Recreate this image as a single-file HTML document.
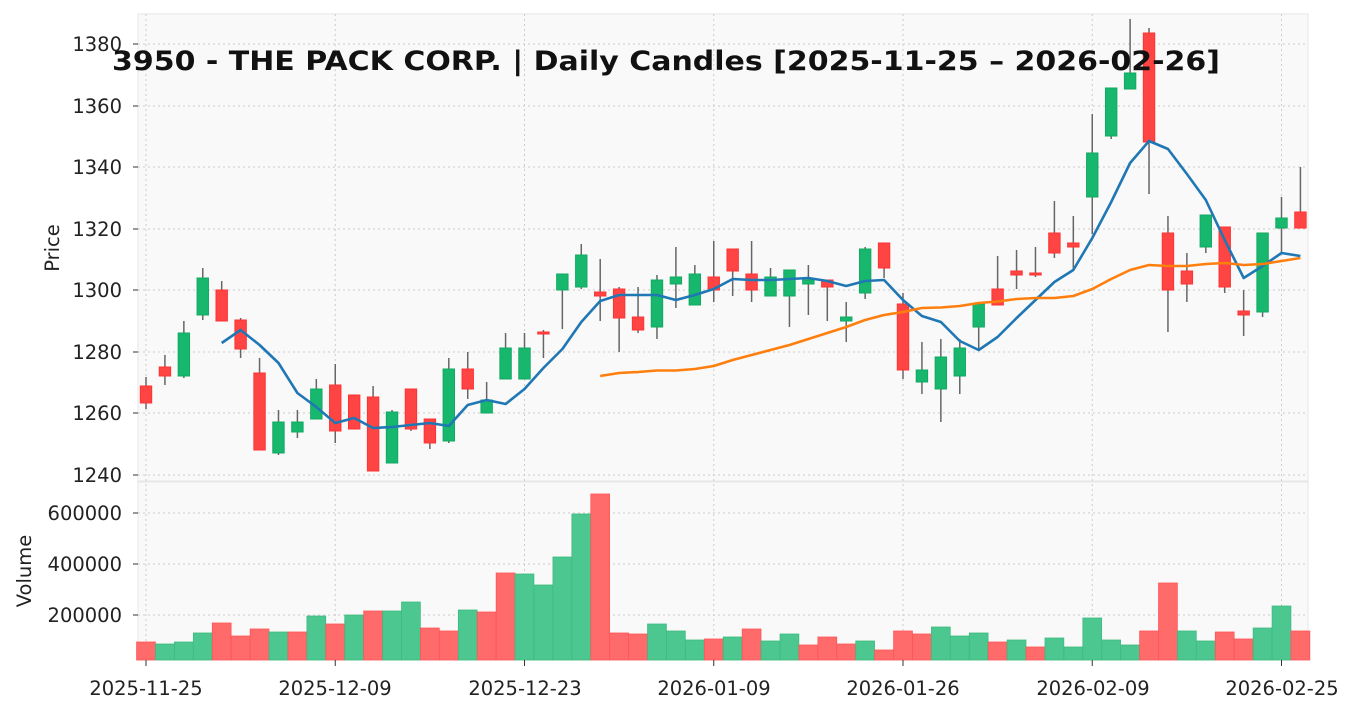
<!DOCTYPE html>
<html><head><meta charset="utf-8"><style>
html,body{margin:0;padding:0;background:#fff;}
svg{display:block;font-family:"DejaVu Sans","Liberation Sans",sans-serif;}
</style></head><body>
<svg id="s" width="1357" height="711" viewBox="0 0 1357 711" xmlns="http://www.w3.org/2000/svg">
<rect x="0" y="0" width="1357" height="711" fill="#fff"/>
<rect x="138" y="14" width="1170" height="467" fill="#f9f9f9" stroke="#e6e6e6"/>
<rect x="138" y="482" width="1170" height="178" fill="#f9f9f9" stroke="#e6e6e6"/>
<g id="grid" stroke="#cccccc" stroke-dasharray="2,3" stroke-width="1"></g>
<g id="vol"></g>
<g id="candles"></g>
<polyline id="ma5" fill="none" stroke="#1f77b4" stroke-width="2.6" stroke-linejoin="round"/>
<polyline id="ma20" fill="none" stroke="#ff7f0e" stroke-width="2.6" stroke-linejoin="round"/>
<g id="ticks" stroke="#333" stroke-width="1"></g>
<g font-size="19.5" fill="#222" text-anchor="end">
<text x="122" y="51">1380</text><text x="122" y="113">1360</text><text x="122" y="174">1340</text>
<text x="122" y="236">1320</text><text x="122" y="297">1300</text><text x="122" y="359">1280</text>
<text x="122" y="420">1260</text><text x="122" y="482">1240</text>
<text x="122" y="520">600000</text><text x="122" y="571">400000</text><text x="122" y="622">200000</text>
</g>
<g font-size="19.5" fill="#222" text-anchor="middle">
<text x="146" y="695">2025-11-25</text><text x="335" y="695">2025-12-09</text>
<text x="525" y="695">2025-12-23</text><text x="714" y="695">2026-01-09</text>
<text x="903" y="695">2026-01-26</text><text x="1093" y="695">2026-02-09</text>
<text x="1282" y="695">2026-02-25</text>
</g>
<text x="59" y="248" font-size="19.5" fill="#222" text-anchor="middle" transform="rotate(-90 59 248)">Price</text>
<text x="31" y="571" font-size="19.5" fill="#222" text-anchor="middle" transform="rotate(-90 31 571)">Volume</text>
<text x="112" y="70" font-size="27" font-weight="bold" fill="#111" textLength="1108" lengthAdjust="spacingAndGlyphs">3950 - THE PACK CORP. | Daily Candles [2025-11-25 – 2026-02-26]</text>
</svg>
<script>
var NS="http://www.w3.org/2000/svg";
function X(i){return 146+i*18.925;}
function el(p,t,a){var e=document.createElementNS(NS,t);for(var k in a)e.setAttribute(k,a[k]);document.getElementById(p).appendChild(e);return e;}
var C=[
['r',386,403,377,409],['r',367,376,355,385],['g',333,376,321,378],['g',278,315,268,320],['r',290,321,281,321],
['r',320,349,318,358],['r',373,450,358,450],['g',422,453,410,455],['g',422,432,410,438],['g',389,419,379,419],
['r',385,431,364,443],['r',395,429,395,429],['r',397,471,386,471],['g',412,463,410,463],['r',389,429,389,431],
['r',419,443,419,449],['g',369,441,358,443],['r',369,389,352,399],['g',400,413,382,413],['g',348,379,333,379],
['g',348,379,333,379],['r',332,334,330,358],['g',274,290,274,329],['g',255,287,244,289],['r',292,296,259,321],
['r',289,318,287,352],['r',317,330,287,333],['g',280,327,275,339],['g',277,284,247,308],['g',274,305,265,305],
['r',277,290,241,302],['r',249,271,249,296],['r',274,290,241,302],['g',277,296,268,296],['g',270,296,270,327],
['g',280,284,265,315],['r',280,287,280,321],['g',317,321,302,342],['g',249,293,247,299],['r',243,268,243,278],
['r',304,370,293,379],['g',370,382,342,394],['g',357,389,339,422],['g',348,376,339,394],['g',304,327,304,351],
['r',289,305,256,305],['r',271,275,250,289],['r',273,275,247,277],['r',233,253,201,258],['r',243,247,216,271],
['g',153,197,114,234],['g',88,136,88,139],['g',73,89,19,89],['r',33,142,28,194],['r',233,290,216,332],
['r',271,284,253,302],['g',215,247,215,253],['r',227,287,227,293],['r',311,315,290,336],['g',233,312,233,317],
['g',218,228,197,253],['r',212,228,167,228]];
var V=[['r',642],['g',644],['g',642],['g',633],['r',623],['r',636],['r',629],['g',632],['r',632],['g',616],
['r',624],['g',615],['r',611],['g',611],['g',602],['r',628],['r',631],['g',610],['r',612],['r',573],
['g',574],['g',585],['g',557],['g',514],['r',494],['r',633],['r',634],['g',624],['g',631],['g',640],
['r',639],['g',637],['r',629],['g',641],['g',634],['r',645],['r',637],['r',644],['g',641],['r',650],
['r',631],['r',634],['g',627],['g',636],['g',633],['r',642],['g',640],['r',647],['g',638],['g',647],
['g',618],['g',640],['g',645],['r',631],['r',583],['g',631],['g',641],['r',632],['r',639],['g',628],
['g',606],['r',631]];
[44,106,167,229,290,352,413,475].forEach(function(y){el('grid','line',{x1:138,x2:1308,y1:y,y2:y});el('ticks','line',{x1:133,x2:138,y1:y,y2:y});});
[513,564,615].forEach(function(y){el('grid','line',{x1:138,x2:1308,y1:y,y2:y});el('ticks','line',{x1:133,x2:138,y1:y,y2:y});});
[0,10,20,30,40,50,60].forEach(function(i){var x=X(i);el('grid','line',{x1:x,x2:x,y1:14,y2:660});el('ticks','line',{x1:x,x2:x,y1:660,y2:666});});
V.forEach(function(v,i){var x=X(i);el('vol','rect',{x:x-9.4,y:v[1],width:18.8,height:660-v[1],fill:v[0]=='r'?'#ff6b6b':'#4cc78f',stroke:v[0]=='r'?'#f55':'#3dbb80','stroke-width':0.8});});
C.forEach(function(c,i){var x=X(i);
el('candles','line',{x1:x,x2:x,y1:c[3],y2:c[4],stroke:'#666','stroke-width':1.5});
var h=Math.max(c[2]-c[1],2);
el('candles','rect',{x:x-5.7,y:c[1],width:11.4,height:h,fill:c[0]=='r'?'#ff4444':'#17b86e',stroke:c[0]=='r'?'#f33':'#13a863','stroke-width':1});});
var M5=[343,330,345,363,393,407,423,418,428,427,425,423,426,405,400,404,389,368,349,322,301,295,295,295,300,295,289,279,280,280,279,278,281,286,281,280,300,316,322,341,350,337,318,300,282,270,238,202,163,141,149,174,200,240,278,266,253,256];
var p=[];M5.forEach(function(y,k){p.push(X(k+4).toFixed(1)+','+y);});document.getElementById('ma5').setAttribute('points',p.join(' '));
var M20=[376,373,372,370.5,370.5,369,366,360,355,350,345,339,333,327,320,315,312,308,307.5,306,303,301.5,299,298,298,296,289,279,270,265,266,266,264,263,265,264,261,258];
p=[];M20.forEach(function(y,k){p.push(X(k+24).toFixed(1)+','+y);});document.getElementById('ma20').setAttribute('points',p.join(' '));
</script>
</body></html>
